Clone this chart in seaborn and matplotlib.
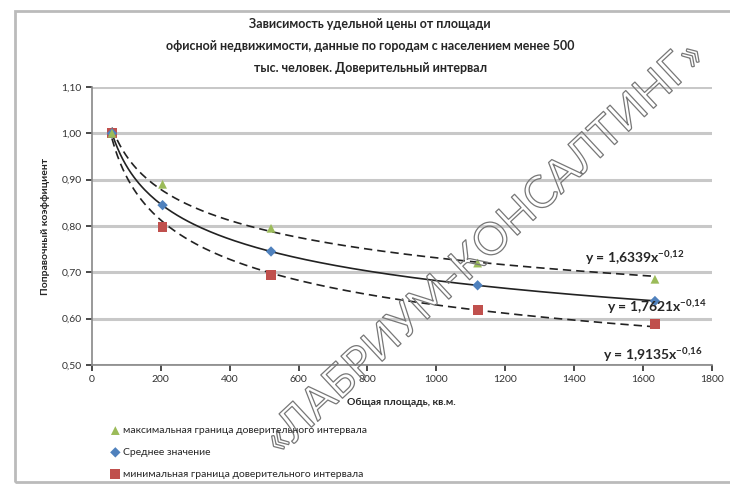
import numpy as np
import pandas as pd
import matplotlib.pyplot as plt
import matplotlib.patheffects as pe
from matplotlib.patches import Rectangle
from matplotlib.ticker import FuncFormatter, MultipleLocator
import seaborn as sns

# Values
area = [58, 205, 520, 1120, 1635]
upper = [1.00, 0.89, 0.795, 0.72, 0.685]
mean = [1.00, 0.845, 0.745, 0.672, 0.638]
lower = [1.00, 0.797, 0.695, 0.618, 0.588]

names = ["максимальная граница доверительного интервала",
         "Среднее значение",
         "минимальная граница доверительного интервала"]
eq_labels = ["y = 1,6339x$^{-0{,}12}$",
             "y = 1,7621x$^{-0{,}14}$",
             "y = 1,9135x$^{-0{,}16}$"]

sns.set_theme(style="white")
plt.rcParams["font.family"] = ["Lato", "DejaVu Sans"]
plt.rcParams["mathtext.fontset"] = "custom"
plt.rcParams["mathtext.rm"] = "Lato"
plt.rcParams["mathtext.it"] = "Lato"
plt.rcParams["mathtext.bf"] = "Lato:bold"
plt.rcParams["mathtext.default"] = "bf"

fig = plt.figure(figsize=(7.3, 4.86), dpi=100)
ax = fig.add_axes([0.126, 0.249, 0.849, 0.572])

df = pd.DataFrame({
    "area": area * 3,
    "k": upper + mean + lower,
    "series": [n for n in names for _ in area],
})

# power trendlines (fit in log space, as Excel does)
styles = [(5, 3), "", (5, 3)]
for vals, dash in zip([upper, mean, lower], styles):
    b, ln_a = np.polyfit(np.log(area), np.log(vals), 1)
    xs = np.linspace(min(area), max(area), 200)
    sns.lineplot(x=xs, y=np.exp(ln_a) * xs ** b, ax=ax, color="#222222",
                 linewidth=1.2, legend=False,
                 linestyle=(0, dash) if dash else "-", zorder=3)

colors = {names[0]: "#9BBB59", names[1]: "#4F81BD", names[2]: "#C0504D"}
markers = {names[0]: "^", names[1]: "D", names[2]: "s"}
sizes = {names[0]: 40, names[1]: 28, names[2]: 50}
for n in names[::-1]:
    sub = df[df["series"] == n]
    sns.scatterplot(data=sub, x="area", y="k", ax=ax, color=colors[n],
                    marker=markers[n], s=sizes[n], edgecolor="none",
                    label=n, zorder=4)

ax.set_xlim(0, 1800)
ax.set_ylim(0.5, 1.1)
ax.xaxis.set_major_locator(MultipleLocator(200))
ax.yaxis.set_major_locator(MultipleLocator(0.1))
ax.yaxis.set_major_formatter(FuncFormatter(lambda v, p: f"{v:.2f}".replace(".", ",")))
ax.grid(axis="y", color="#c8c8c8", linewidth=2.2)
ax.set_axisbelow(True)
for s in ["top", "right"]:
    ax.spines[s].set_visible(False)
for s in ["left", "bottom"]:
    ax.spines[s].set_color("#888888")
    ax.spines[s].set_linewidth(1.2)
ax.tick_params(labelsize=7.5, colors="#333333", length=4, direction="out",
               left=True, bottom=True)

ax.set_xlabel("Общая площадь, кв.м.", fontsize=7.5, fontweight="bold", labelpad=10)
ax.set_ylabel("Поправочный коэффициент", fontsize=7.5, fontweight="bold", labelpad=8)

eq_pos = [(1431, 0.731), (1495, 0.625), (1484, 0.521)]
for (x, y), t in zip(eq_pos, eq_labels):
    ax.text(x, y, t, fontsize=10, fontweight="bold", ha="left", va="center",
            clip_on=False, zorder=5)

fig.suptitle("Зависимость удельной цены от площади\n"
             "офисной недвижимости, данные по городам с населением менее 500\n"
             "тыс. человек. Доверительный интервал",
             x=0.507, y=0.962, fontsize=9, fontweight="bold", linespacing=2.0)

handles, labels = ax.get_legend_handles_labels()
order = [labels.index(n) for n in names]
ax.get_legend().remove()
fig.legend([handles[i] for i in order], names, loc="upper left",
           bbox_to_anchor=(0.148, 0.132), frameon=False, fontsize=7.5,
           handlelength=0.6, handletextpad=0.4, labelspacing=1.2,
           borderaxespad=0)

# chart area border
fig.patches.append(Rectangle((0.02, 0.008), 1.2, 0.97, transform=fig.transFigure,
                             fill=False, edgecolor="#bbbbbb", linewidth=2))

# watermark
fig.text(0.665, 0.49, "«ЛАБРИУМ-КОНСАЛТИНГ»", fontsize=32, rotation=43,
         ha="center", va="center", color=(1, 1, 1, 0),
         path_effects=[pe.withStroke(linewidth=0.9, foreground="#777777")])

plt.savefig("out.png", dpi=100)
